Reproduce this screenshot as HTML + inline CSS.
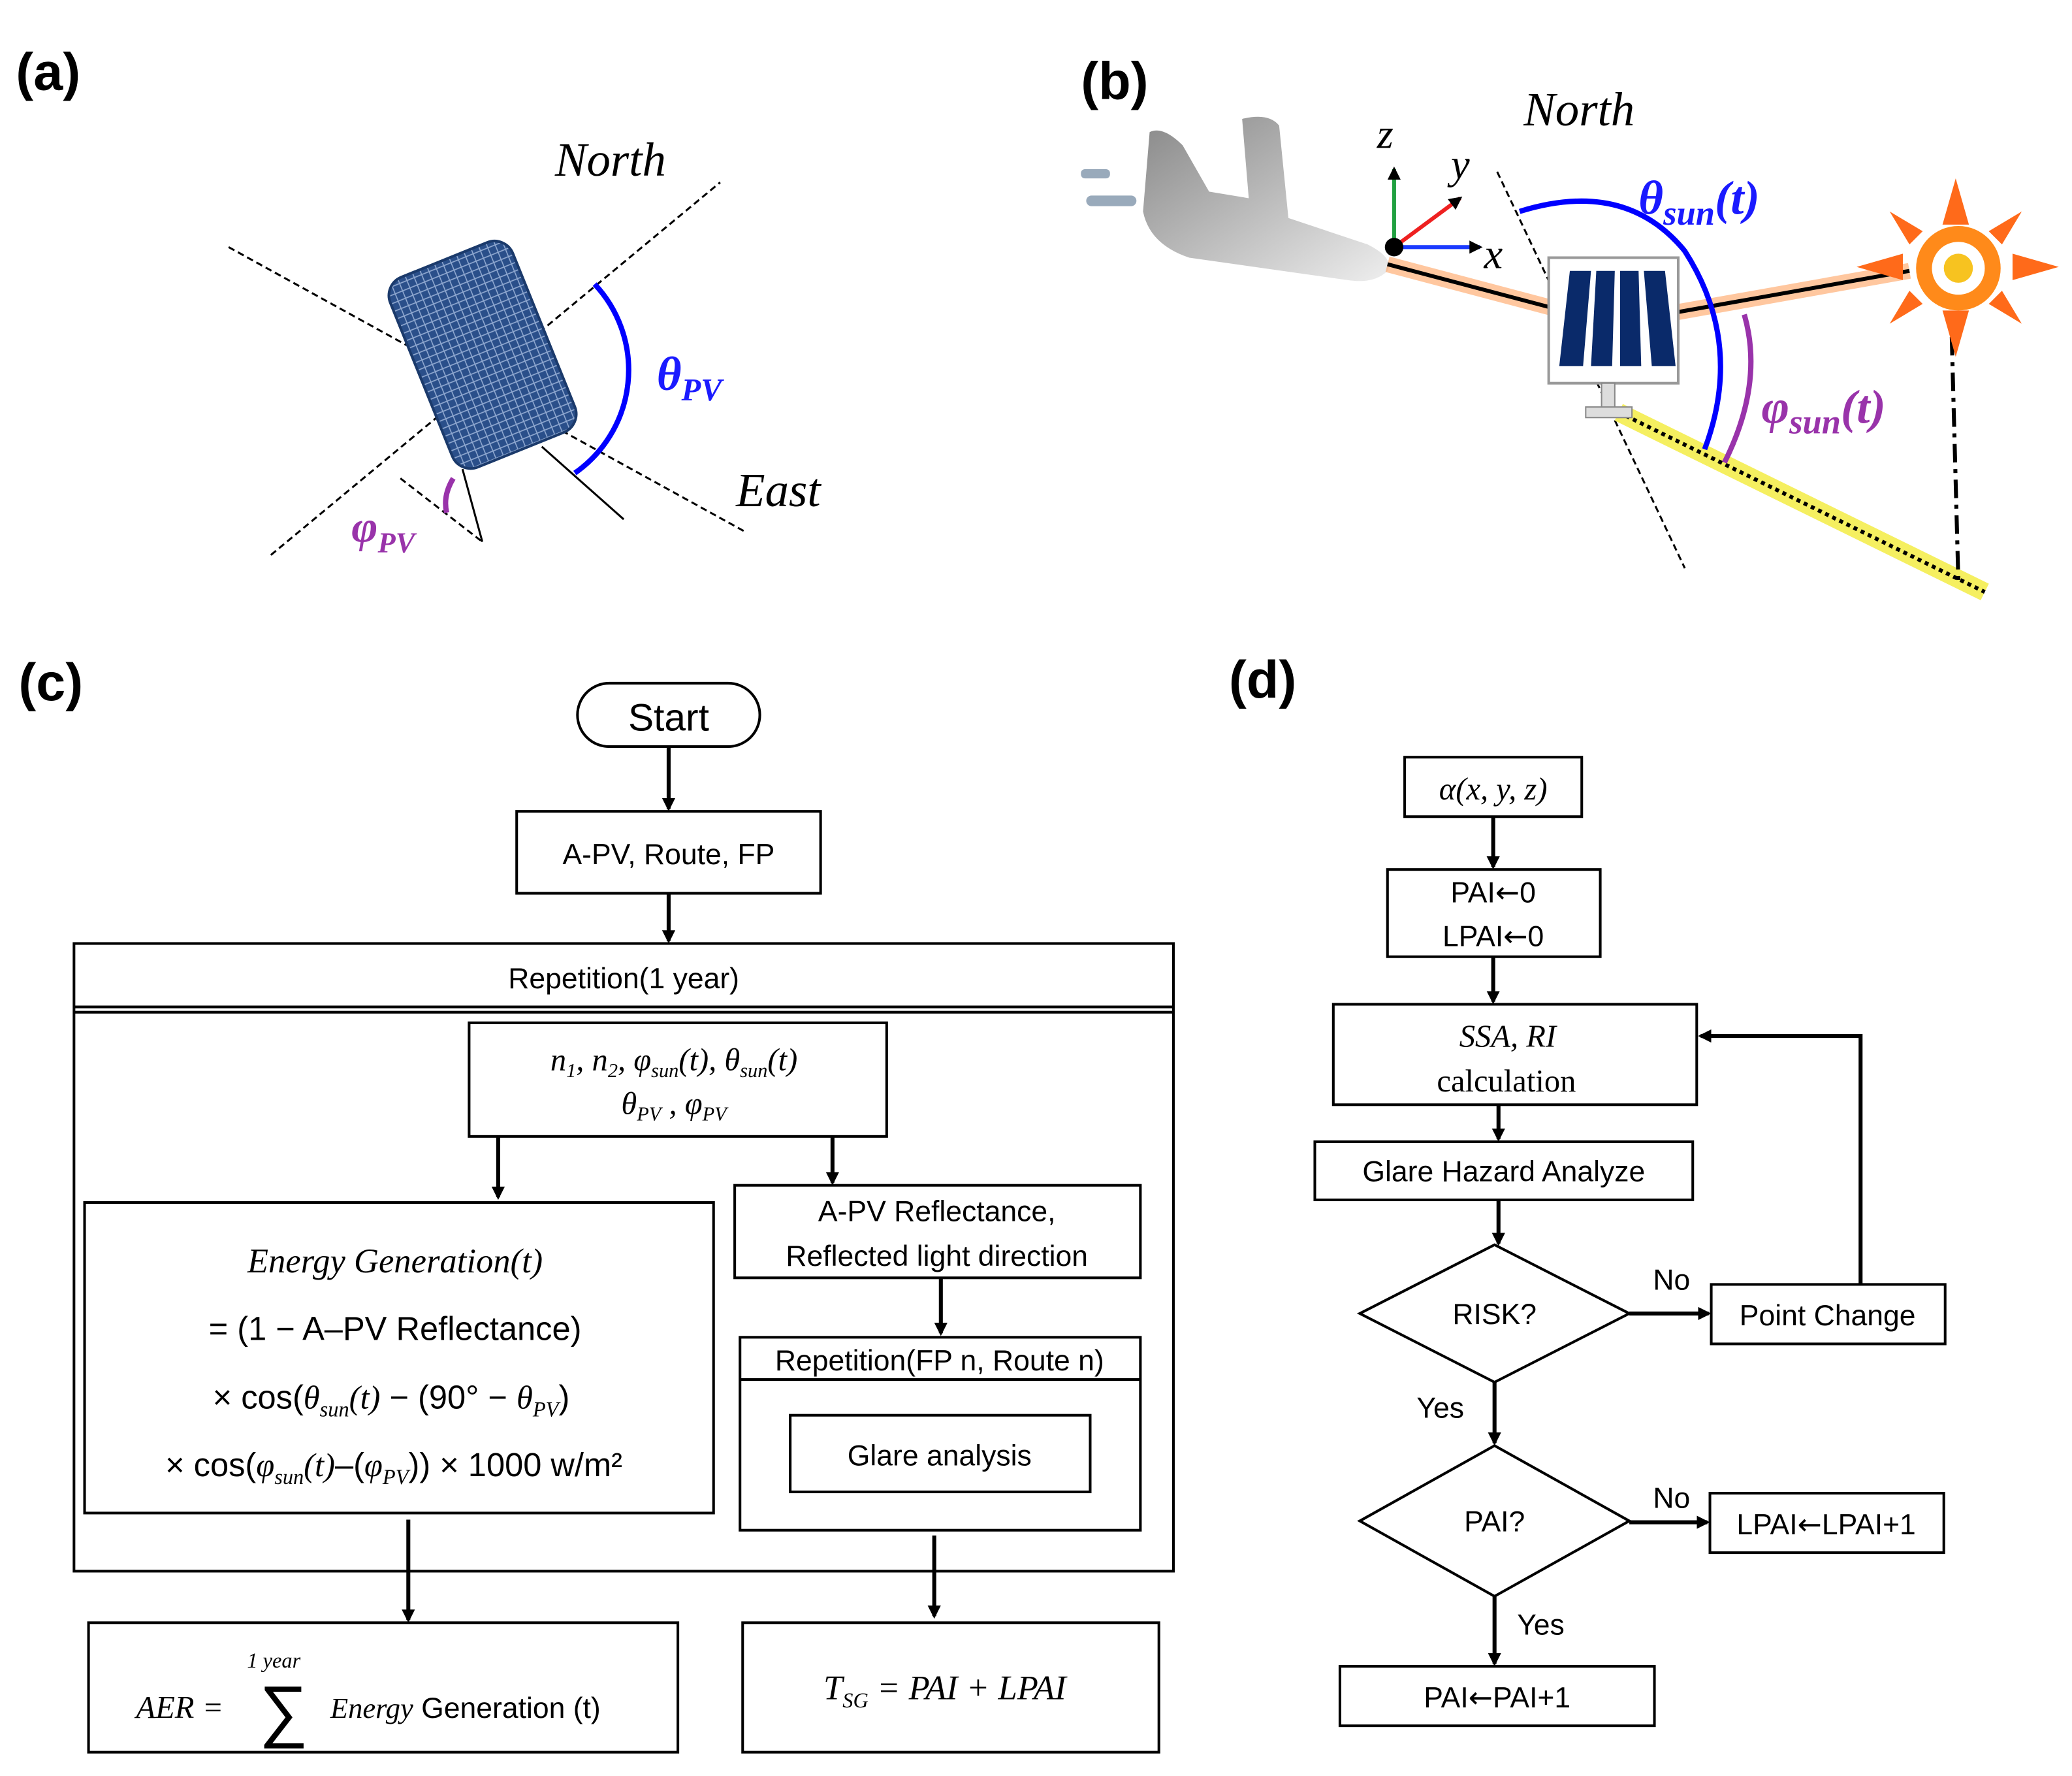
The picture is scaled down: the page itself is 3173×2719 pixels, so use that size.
<!DOCTYPE html>
<html><head><meta charset="utf-8"><style>
html,body{margin:0;padding:0;background:#fff;}
svg{display:block;}
.s{font-family:"Liberation Sans","DejaVu Sans",sans-serif;}
.m{font-family:"Liberation Serif","DejaVu Serif",serif;font-style:italic;}
.ar{font-family:"DejaVu Sans",sans-serif;}
</style></head><body>
<svg width="3173" height="2719" viewBox="0 0 1568 1344" preserveAspectRatio="none" xmlns="http://www.w3.org/2000/svg">
<defs>
<marker id="ar" markerWidth="10" markerHeight="10" refX="8" refY="5" orient="auto" markerUnits="userSpaceOnUse">
<path d="M0,0 L10,5 L0,10 z" fill="#000"/></marker>
<pattern id="mesh" width="6" height="6" patternUnits="userSpaceOnUse">
<rect width="6" height="6" fill="#2a4f8a"/><path d="M0,3 H6 M3,0 V6" stroke="#8fa8d0" stroke-width="0.8"/></pattern>
<linearGradient id="pl" x1="0" y1="0" x2="1" y2="1"><stop offset="0" stop-color="#888"/><stop offset="1" stop-color="#eee"/></linearGradient>
</defs>
<g class="s" font-weight="bold" font-size="40" fill="#000">
<text x="12" y="68">(a)</text><text x="818" y="75">(b)</text>
<text x="14" y="530">(c)</text><text x="930" y="528">(d)</text>
</g>

<!-- panel a -->
<g stroke="#000" stroke-width="1.5" stroke-dasharray="5,3" fill="none">
<line x1="173" y1="187" x2="565" y2="403"/><line x1="205" y1="420" x2="545" y2="138"/>
<line x1="303" y1="362" x2="365" y2="410"/>
</g>
<rect x="315" y="191" width="100" height="155" rx="15" fill="url(#mesh)" stroke="#1b3a6b" stroke-width="2" transform="rotate(-22 365 268)"/>
<g stroke="#000" stroke-width="1.5"><line x1="350" y1="355" x2="365" y2="410"/><line x1="410" y1="338" x2="472" y2="393"/></g>
<path d="M450,215 A95,95 0 0 1 435,358" stroke="#0000ff" stroke-width="4" fill="none"/>
<path d="M343,362 Q335,375 338,388" stroke="#9933aa" stroke-width="4" fill="none"/>
<text x="420" y="133" class="m" font-size="36">North</text>
<text x="557" y="383" class="m" font-size="36">East</text>
<text x="497" y="295" class="m" font-weight="bold" font-size="36" fill="#1a1aff">θ<tspan font-size="24" dy="8">PV</tspan></text>
<text x="266" y="410" class="m" font-weight="bold" font-size="34" fill="#9933aa">φ<tspan font-size="22" dy="8">PV</tspan></text>

<!-- panel b -->
<g fill="#9ab" ><rect x="818" y="128" width="22" height="7" rx="3"/><rect x="822" y="148" width="38" height="8" rx="4"/></g>
<path d="M870,100 Q880,95 895,110 L915,145 L945,150 L940,90 Q960,85 968,95 L975,165 L1035,185 Q1055,195 1050,205 Q1040,215 1020,212 L900,195 Q870,185 865,160 z" fill="url(#pl)"/>
<path d="M1050,200 L1220,245 L1445,205" stroke="#ff9040" stroke-width="12" stroke-opacity="0.5" fill="none"/>
<path d="M1050,200 L1220,245 L1445,205" stroke="#000" stroke-width="3" fill="none"/>
<line x1="1133" y1="130" x2="1275" y2="430" stroke="#000" stroke-width="1.5" stroke-dasharray="5,3"/>
<line x1="1225" y1="312" x2="1502" y2="448" stroke="#f5ef60" stroke-width="14"/>
<line x1="1225" y1="312" x2="1502" y2="448" stroke="#000" stroke-width="3" stroke-dasharray="3,3"/>
<line x1="1477" y1="255" x2="1482" y2="440" stroke="#000" stroke-width="3" stroke-dasharray="14,5,3,5"/>
<path d="M1150,160 Q1230,135 1275,190 Q1320,260 1290,340" stroke="#0000ff" stroke-width="4" fill="none"/>
<path d="M1320,238 Q1335,290 1305,350" stroke="#9933aa" stroke-width="4" fill="none"/>
<rect x="1172" y="195" width="98" height="95" fill="#fff" stroke="#999" stroke-width="2"/>
<g fill="#0a2a6a"><path d="M1188,205 h16 l-6,72 h-18z"/><path d="M1208,205 h14 l-2,72 h-16z"/><path d="M1226,205 h14 l2,72 h-16z"/><path d="M1244,205 h16 l8,72 h-18z"/></g>
<rect x="1212" y="290" width="10" height="20" fill="#ddd" stroke="#888"/>
<rect x="1200" y="308" width="35" height="8" fill="#ddd" stroke="#888"/>
<g fill="#ff6a1a"><polygon points="1480,135 1490,170 1470,170"/><polygon points="1480,270 1490,235 1470,235"/><polygon points="1405,202 1440,192 1440,212"/><polygon points="1558,202 1523,192 1523,212"/><polygon points="1430,160 1455,175 1445,185"/><polygon points="1530,160 1505,175 1515,185"/><polygon points="1430,245 1455,230 1445,220"/><polygon points="1530,245 1505,230 1515,220"/></g>
<circle cx="1482" cy="203" r="32" fill="#ff8a1a"/><circle cx="1482" cy="203" r="20" fill="#fff"/><circle cx="1482" cy="203" r="11" fill="#f7c320"/>
<line x1="1055" y1="187" x2="1055" y2="128" stroke="#20a040" stroke-width="3" marker-end="url(#ar)"/>
<line x1="1055" y1="187" x2="1120" y2="187" stroke="#1a3aff" stroke-width="3" marker-end="url(#ar)"/>
<line x1="1055" y1="187" x2="1105" y2="150" stroke="#ee2020" stroke-width="3" marker-end="url(#ar)"/>
<circle cx="1055" cy="187" r="7" fill="#000"/>
<text x="1042" y="112" class="m" font-size="32">z</text><text x="1098" y="135" class="m" font-size="32">y</text><text x="1123" y="203" class="m" font-size="32">x</text>
<text x="1153" y="95" class="m" font-size="36">North</text>
<text x="1240" y="162" class="m" font-weight="bold" font-size="36" fill="#1a1aff">θ<tspan font-size="26" dy="8">sun</tspan><tspan dy="-8">(t)</tspan></text>
<text x="1333" y="320" class="m" font-weight="bold" font-size="36" fill="#9933aa">φ<tspan font-size="26" dy="8">sun</tspan><tspan dy="-8">(t)</tspan></text>

<!-- panel c -->
<g fill="none" stroke="#000" stroke-width="2">
<rect x="437" y="517" width="138" height="48" rx="24"/>
<rect x="391" y="614" width="230" height="62"/>
<rect x="56" y="714" width="832" height="475"/>
<line x1="56" y1="762" x2="888" y2="762"/><line x1="56" y1="766" x2="888" y2="766"/>
<rect x="355" y="774" width="316" height="86"/>
<rect x="64" y="910" width="476" height="235"/>
<rect x="556" y="897" width="307" height="70"/>
<rect x="560" y="1012" width="303" height="146"/><line x1="560" y1="1044" x2="863" y2="1044"/>
<rect x="598" y="1071" width="227" height="58"/>
<rect x="67" y="1228" width="446" height="98"/>
<rect x="562" y="1228" width="315" height="98"/>
</g>
<g stroke="#000" stroke-width="3" marker-end="url(#ar)">
<line x1="506" y1="565" x2="506" y2="612"/><line x1="506" y1="676" x2="506" y2="712"/>
<line x1="377" y1="860" x2="377" y2="906"/><line x1="630" y1="860" x2="630" y2="895"/>
<line x1="712" y1="967" x2="712" y2="1009"/>
<line x1="309" y1="1150" x2="309" y2="1226"/><line x1="707" y1="1162" x2="707" y2="1223"/>
</g>
<g class="s" font-size="22" text-anchor="middle">
<text x="506" y="553" font-size="29">Start</text>
<text x="506" y="654">A-PV, Route, FP</text>
<text x="472" y="748">Repetition(1 year)</text>
<text x="709" y="924">A-PV Reflectance,</text>
<text x="709" y="958">Reflected light direction</text>
<text x="711" y="1037">Repetition(FP n, Route n)</text>
<text x="711" y="1109">Glare analysis</text>
</g>
<g class="m" font-size="24" text-anchor="middle">
<text x="510" y="810">n<tspan font-size="15" dy="5">1</tspan><tspan dy="-5">, n</tspan><tspan font-size="15" dy="5">2</tspan><tspan dy="-5">, φ</tspan><tspan font-size="15" dy="5">sun</tspan><tspan dy="-5">(t), θ</tspan><tspan font-size="15" dy="5">sun</tspan><tspan dy="-5">(t)</tspan></text>
<text x="510" y="843">θ<tspan font-size="15" dy="5">PV</tspan><tspan dy="-5"> , φ</tspan><tspan font-size="15" dy="5">PV</tspan></text>
<text x="299" y="963" font-size="26">Energy Generation(t)</text>
</g>
<g class="s" font-size="25" text-anchor="middle">
<text x="299" y="1014">= (1 − A–PV Reflectance)</text>
<text x="296" y="1066">× cos(<tspan class="m">θ</tspan><tspan class="m" font-size="16" dy="6">sun</tspan><tspan class="m" dy="-6">(t)</tspan>  − (90° − <tspan class="m">θ</tspan><tspan class="m" font-size="16" dy="6">PV</tspan><tspan dy="-6">)</tspan></text>
<text x="298" y="1117">× cos(<tspan class="m">φ</tspan><tspan class="m" font-size="16" dy="6">sun</tspan><tspan class="m" dy="-6">(t)</tspan>–(<tspan class="m">φ</tspan><tspan class="m" font-size="16" dy="6">PV</tspan><tspan dy="-6">)) × 1000 w/m²</tspan></text>
</g>
<text x="103" y="1300" class="m" font-size="24">AER =</text>
<text x="187" y="1262" class="m" font-size="16">1 year</text>
<text x="196" y="1312" class="s" font-size="52">∑</text>
<text x="250" y="1300" class="s" font-size="22"><tspan class="m">Energy</tspan> Generation (t)</text>
<text x="715" y="1286" class="m" font-size="26" text-anchor="middle">T<tspan font-size="16" dy="6">SG</tspan><tspan dy="-6"> = PAI + LPAI</tspan></text>

<!-- panel d -->
<g fill="none" stroke="#000" stroke-width="2">
<rect x="1063" y="573" width="134" height="45"/>
<rect x="1050" y="658" width="161" height="66"/>
<rect x="1009" y="760" width="275" height="76"/>
<rect x="995" y="864" width="286" height="44"/>
<polygon points="1029,994 1131,942 1233,994 1131,1046"/>
<rect x="1295" y="972" width="177" height="45"/>
<polygon points="1029,1151 1131,1094 1233,1151 1131,1208"/>
<rect x="1294" y="1130" width="177" height="45"/>
<rect x="1014" y="1261" width="238" height="45"/>
</g>
<g stroke="#000" stroke-width="3" marker-end="url(#ar)" fill="none">
<line x1="1130" y1="618" x2="1130" y2="656"/><line x1="1130" y1="724" x2="1130" y2="758"/>
<line x1="1134" y1="836" x2="1134" y2="862"/><line x1="1134" y1="908" x2="1134" y2="941"/>
<line x1="1233" y1="994" x2="1293" y2="994"/>
<polyline points="1408,972 1408,784 1287,784"/>
<line x1="1131" y1="1046" x2="1131" y2="1092"/>
<line x1="1233" y1="1152" x2="1292" y2="1152"/>
<line x1="1131" y1="1208" x2="1131" y2="1259"/>
</g>
<g class="s" font-size="22" text-anchor="middle">
<text x="1130" y="683">PAI<tspan class="ar">←</tspan>0</text><text x="1130" y="716">LPAI<tspan class="ar">←</tspan>0</text>
<text x="1140" y="826" style="font-family:'Liberation Serif',serif;font-style:normal" font-size="24">calculation</text>
<text x="1138" y="894">Glare Hazard Analyze</text>
<text x="1131" y="1002">RISK?</text>
<text x="1383" y="1003">Point Change</text>
<text x="1131" y="1159">PAI?</text>
<text x="1382" y="1161">LPAI<tspan class="ar">←</tspan>LPAI+1</text>
<text x="1133" y="1292">PAI<tspan class="ar">←</tspan>PAI+1</text>
<text x="1265" y="976">No</text><text x="1090" y="1073">Yes</text>
<text x="1265" y="1141">No</text><text x="1166" y="1237">Yes</text>
</g>
<text x="1130" y="605" class="m" font-size="24" text-anchor="middle">α(x, y, z)</text>
<text x="1141" y="792" class="m" font-size="24" text-anchor="middle">SSA, RI</text>
</svg>
</body></html>
